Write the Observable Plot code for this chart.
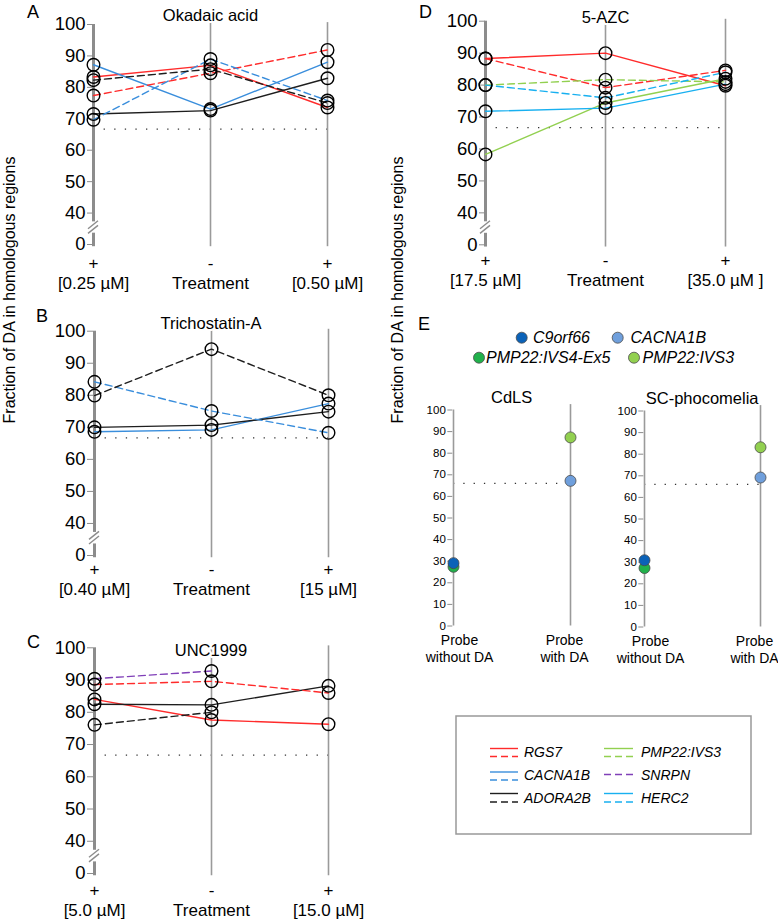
<!DOCTYPE html>
<html><head><meta charset="utf-8">
<script src="https://cdn.jsdelivr.net/npm/d3@7"></script>
<script src="https://cdn.jsdelivr.net/npm/@observablehq/plot@0.6"></script>
<style>
html,body{margin:0;padding:0;background:#fff;overflow:hidden;}
#fig{position:relative;width:778px;height:920px;font-family:"Liberation Sans",Arial,Helvetica,sans-serif;}
#fig > svg{position:absolute;}
</style></head><body><div id="fig"></div>
<script>
const FONT = '"Liberation Sans", Arial, Helvetica, sans-serif';

// ---------- shared categories / ticks ----------
const conditions = ["low", "untreated", "high"];
const conditionSigns = ["+", "-", "+"];
const yTicks = [30, 40, 50, 60, 70, 80, 90, 100];        // 30 = position of the "0" below the axis break
const yTickLabels = ["0", "40", "50", "60", "70", "80", "90", "100"];
const threshold = 66.7;
const yLabel = "Fraction of DA in homologous regions";

const geneNames = ["RGS7", "CACNA1B", "ADORA2B", "PMP22:IVS3", "SNRPN", "HERC2"];
const geneColors = ["#ff2b2b", "#3a8edc", "#1e1e1e", "#92d050", "#8040b8", "#18b0f0"];
const legendHasSolid = [true, true, true, true, false, true];

// ---------- A: Okadaic acid ----------
const okadaicTitle = "Okadaic acid";
const okadaicDoses = ["[0.25 µM]", "Treatment", "[0.50 µM]"];
const okadaicGenes = ["RGS7", "RGS7", "CACNA1B", "CACNA1B", "ADORA2B", "ADORA2B"];
const okadaicStyles = ["solid", "dashed", "solid", "dashed", "solid", "dashed"];
const okadaicValues = [
  [83.3, 87.0, 73.6],
  [77.4, 84.5, 91.9],
  [87.2, 73.1, 88.0],
  [69.7, 89.0, 75.8],
  [71.5, 72.6, 82.9],
  [82.3, 85.8, 75.0]
];

// ---------- B: Trichostatin-A ----------
const tsaTitle = "Trichostatin-A";
const tsaDoses = ["[0.40 µM]", "Treatment", "[15 µM]"];
const tsaGenes = ["CACNA1B", "CACNA1B", "ADORA2B", "ADORA2B"];
const tsaStyles = ["solid", "dashed", "solid", "dashed"];
const tsaValues = [
  [68.6, 69.2, 77.4],
  [84.2, 75.1, 68.3],
  [70.0, 70.7, 74.9],
  [79.9, 94.4, 80.0]
];

// ---------- C: UNC1999 ----------
const uncTitle = "UNC1999";
const uncDoses = ["[5.0 µM]", "Treatment", "[15.0 µM]"];
const uncGenes = ["RGS7", "RGS7", "ADORA2B", "ADORA2B", "SNRPN"];
const uncStyles = ["solid", "dashed", "solid", "dashed", "dashed"];
const uncValues = [
  [84.0, 77.6, 76.3],
  [88.6, 89.6, 86.0],
  [82.5, 82.3, 88.2],
  [76.1, 80.0, null],
  [90.4, 92.8, null]
];

// ---------- D: 5-AZC ----------
const azcTitle = "5-AZC";
const azcDoses = ["[17.5 µM]", "Treatment", "[35.0 µM ]"];
const azcGenes = ["RGS7", "RGS7", "PMP22:IVS3", "PMP22:IVS3", "HERC2", "HERC2"];
const azcStyles = ["solid", "dashed", "solid", "dashed", "solid", "dashed"];
const azcValues = [
  [88.3, 90.0, 79.8],
  [88.3, 79.2, 84.6],
  [58.3, 74.4, 82.0],
  [80.0, 81.7, 81.0],
  [71.8, 72.8, 80.3],
  [80.0, 76.0, 84.0]
];

// ---------- E: probes ----------
const probeConditions = ["without", "with"];
const probeLabels = ["Probe\nwithout DA", "Probe\nwith DA"];
const eGenes = ["PMP22:IVS4-Ex5", "C9orf66", "CACNA1B", "PMP22:IVS3"];
const eGeneColors = ["#21b14b", "#0b62b8", "#6f9fdc", "#92d050"];
const eLegendOrder = ["C9orf66", "CACNA1B", "PMP22:IVS4-Ex5", "PMP22:IVS3"];
const eTicks = [0, 10, 20, 30, 40, 50, 60, 70, 80, 90, 100];
const eThreshold = 66;
const cdlsTitle = "CdLS";
const cdlsValues = [[27.4, null], [29.1, null], [null, 67.2], [null, 87.3]];
const scTitle = "SC-phocomelia";
const scValues = [[27.3, null], [30.9, null], [null, 69.2], [null, 83.2]];

const fig = document.getElementById("fig");

function toRows(genes, styles, values, cats) {
  return genes.flatMap((g, i) => values[i].map((v, j) => ({series: i, gene: g, style: styles ? styles[i] : null, cond: cats[j], value: v})))
    .filter(d => d.value != null);
}

function breakMark() {
  return (index, scales) => {
    const x = scales.x(conditions[0]);
    const y = scales.y(35.4);
    const g = d3.create("svg:g").attr("stroke", "#8c8c8c").attr("stroke-width", 1.4);
    for (const o of [-2.3, 2.3]) {
      g.append("line").attr("x1", x - 5).attr("y1", y + o + 4).attr("x2", x + 5).attr("y2", y + o - 4);
    }
    return g.node();
  };
}

function treatmentPanel(p) {
  const data = toRows(p.genes, p.styles, p.values, conditions);
  const xLabel = new Map(conditions.map((c, i) => [c, conditionSigns[i] + "\n" + p.doses[i]]));
  const plot = Plot.plot({
    width: p.width, height: p.height,
    marginLeft: p.mLeft, marginRight: p.mRight, marginTop: p.mTop, marginBottom: p.mBottom,
    x: {type: "point", domain: conditions, padding: 0},
    y: {domain: [30, 100]},
    color: {domain: geneNames, range: geneColors},
    style: {background: "transparent", overflow: "visible", fontFamily: FONT},
    marks: [
      Plot.ruleY([{y: threshold, x1: conditions[0], x2: conditions[2]}], {y: "y", x1: "x1", x2: "x2", stroke: "#333", strokeWidth: 1.3, strokeDasharray: "1.3,9.3"}),
      Plot.ruleX(conditions.slice(1), {x: d => d, y1: 29.3, y2: 100.6, stroke: "#9a9a9a", strokeWidth: 1.6}),
      Plot.ruleX([conditions[0]], {x: d => d, y1: 37.2, y2: 100, stroke: "#8c8c8c", strokeWidth: 3}),
      Plot.ruleX([conditions[0]], {x: d => d, y1: 29.3, y2: 33.6, stroke: "#8c8c8c", strokeWidth: 3}),
      breakMark(),
      Plot.axisY({ticks: yTicks, tickFormat: d => yTickLabels[yTicks.indexOf(d)], tickSize: 6, tickPadding: 2, fontSize: 18.5, stroke: "#8c8c8c", fill: "#000"}),
      Plot.axisX({tickSize: 0, tickPadding: p.xPad, tickFormat: d => xLabel.get(d), fontSize: 17, lineHeight: 1.2, fill: "#000"}),
      Plot.line(data.filter(d => d.style === "solid"), {x: "cond", y: "value", z: "series", stroke: "gene", strokeWidth: 1.4}),
      Plot.line(data.filter(d => d.style === "dashed"), {x: "cond", y: "value", z: "series", stroke: "gene", strokeWidth: 1.4, strokeDasharray: "7,4"}),
      Plot.dot(data, {x: "cond", y: "value", r: 6.3, stroke: "#000", strokeWidth: 1.4, fill: "none"}),
      Plot.text([p.title], {text: d => d, frameAnchor: "top", dy: p.titleDy, fontSize: 16.5, fill: "#000", stroke: "white", strokeWidth: 4, paintOrder: "stroke"})
    ]
  });
  plot.style.left = p.left + "px";
  plot.style.top = p.top + "px";
  fig.appendChild(plot);
}

treatmentPanel({title: okadaicTitle, doses: okadaicDoses, genes: okadaicGenes, styles: okadaicStyles, values: okadaicValues,
  left: 0, top: 0, width: 390, height: 300, mLeft: 93, mRight: 63, mTop: 24, mBottom: 56, xPad: 10, titleDy: -15});
treatmentPanel({title: tsaTitle, doses: tsaDoses, genes: tsaGenes, styles: tsaStyles, values: tsaValues,
  left: 0, top: 290, width: 390, height: 310, mLeft: 93, mRight: 62, mTop: 40.7, mBottom: 45, xPad: 5, titleDy: -14});
treatmentPanel({title: uncTitle, doses: uncDoses, genes: uncGenes, styles: uncStyles, values: uncValues,
  left: 0, top: 620, width: 390, height: 300, mLeft: 93, mRight: 62, mTop: 27.3, mBottom: 47, xPad: 8, titleDy: -4});
treatmentPanel({title: azcTitle, doses: azcDoses, genes: azcGenes, styles: azcStyles, values: azcValues,
  left: 392, top: 0, width: 386, height: 300, mLeft: 93, mRight: 53, mTop: 20.7, mBottom: 55.7, xPad: 6.6, titleDy: -10});

function probePanel(p) {
  const data = toRows(eGenes, null, p.values, probeConditions);
  const plot = Plot.plot({
    width: p.width, height: p.height,
    marginLeft: p.mLeft, marginRight: p.mRight, marginTop: p.mTop, marginBottom: p.mBottom,
    x: {type: "point", domain: probeConditions, padding: 0},
    y: {domain: [0, 100]},
    color: {domain: eGenes, range: eGeneColors},
    style: {background: "transparent", overflow: "visible", fontFamily: FONT},
    marks: [
      Plot.ruleY([{y: eThreshold, x1: probeConditions[0], x2: probeConditions[1]}], {y: "y", x1: "x1", x2: "x2", stroke: "#333", strokeWidth: 1.3, strokeDasharray: "1.3,9"}),
      Plot.ruleX([probeConditions[0]], {x: d => d, y1: 0, y2: 100, stroke: "#9a9a9a", strokeWidth: 1.6}),
      Plot.ruleX([probeConditions[1]], {x: d => d, y1: 0, y2: 102.5, stroke: "#9a9a9a", strokeWidth: 1.6}),
      Plot.axisY({ticks: eTicks, tickSize: 5, tickPadding: 2, fontSize: 11.5, stroke: "#8c8c8c", fill: "#000"}),
      Plot.axisX({ticks: [], tickSize: 0}),
      Plot.text([probeConditions[0]], {x: d => d, text: d => probeLabels[0], frameAnchor: "bottom", lineAnchor: "top", dy: 7.5, dx: 6, fontSize: 14, lineHeight: 1.2, fill: "#000"}),
      Plot.text([probeConditions[1]], {x: d => d, text: d => probeLabels[1], frameAnchor: "bottom", lineAnchor: "top", dy: 7.5, dx: -6, fontSize: 14, lineHeight: 1.2, fill: "#000"}),
      Plot.dot(data, {x: "cond", y: "value", r: 5.5, fill: "gene", stroke: "#4a4a4a", strokeWidth: 0.8}),
      Plot.text([p.title], {text: d => d, frameAnchor: "top", dy: -19, fontSize: 16.5, fill: "#000"})
    ]
  });
  plot.style.left = p.left + "px";
  plot.style.top = p.top + "px";
  fig.appendChild(plot);
}

probePanel({title: cdlsTitle, values: cdlsValues, left: 400, top: 370, width: 190, height: 300, mLeft: 52.3, mRight: 20, mTop: 39.5, mBottom: 44.5});
probePanel({title: scTitle, values: scValues, left: 595, top: 370, width: 183, height: 300, mLeft: 48.3, mRight: 18, mTop: 40.5, mBottom: 43.5});

// ---------- overlay: panel letters, y labels, legends ----------
const ov = d3.create("svg").attr("width", 778).attr("height", 920)
  .style("position", "absolute").style("left", "0px").style("top", "0px")
  .style("pointer-events", "none").style("font-family", FONT);
const letters = [["A", 27, 18], ["B", 36, 322], ["C", 27, 648], ["D", 419, 18], ["E", 418, 330]];
for (const [t, x, y] of letters) ov.append("text").attr("x", x).attr("y", y).attr("font-size", 18).text(t);
for (const cx of [9, 397]) {
  ov.append("text").attr("transform", `translate(${cx},290) rotate(-90)`).attr("text-anchor", "middle")
    .attr("dominant-baseline", "central").attr("font-size", 16).text(yLabel);
}
// E legend (top)
const eLegendPos = [[521.7, 337.7, 533], [617.7, 337.7, 630.5], [479, 357.7, 486], [634, 357.7, 642.5]];
eLegendOrder.forEach((g, i) => {
  const [cx, cy, tx] = eLegendPos[i];
  ov.append("circle").attr("cx", cx).attr("cy", cy).attr("r", 5.5).attr("fill", eGeneColors[eGenes.indexOf(g)]).attr("stroke", "#4a4a4a").attr("stroke-width", 0.8);
  ov.append("text").attr("x", tx).attr("y", cy).attr("dominant-baseline", "central").attr("font-size", 16).attr("font-style", "italic").text(g);
});
// bottom legend box
ov.append("rect").attr("x", 456).attr("y", 716).attr("width", 295).attr("height", 118).attr("fill", "none").attr("stroke", "#999").attr("stroke-width", 1.5);
const boxCols = [[490, 518, 524], [604, 633, 641]];
const boxRows = [[748.5, 756.5, 752], [772, 780, 774.5], [793.5, 802, 797.5]];
geneNames.forEach((g, i) => {
  const col = boxCols[Math.floor(i / 3)], row = boxRows[i % 3];
  const c = geneColors[i];
  if (legendHasSolid[i]) {
    ov.append("line").attr("x1", col[0]).attr("x2", col[1]).attr("y1", row[0]).attr("y2", row[0]).attr("stroke", c).attr("stroke-width", 1.4);
    ov.append("line").attr("x1", col[0]).attr("x2", col[1]).attr("y1", row[1]).attr("y2", row[1]).attr("stroke", c).attr("stroke-width", 1.4).attr("stroke-dasharray", "7,4");
  } else {
    ov.append("line").attr("x1", col[0]).attr("x2", col[1]).attr("y1", row[2]).attr("y2", row[2]).attr("stroke", c).attr("stroke-width", 1.4).attr("stroke-dasharray", "7,4");
  }
  ov.append("text").attr("x", col[2]).attr("y", row[2]).attr("dominant-baseline", "central").attr("font-size", 14).attr("font-style", "italic").text(g);
});
fig.appendChild(ov.node());
</script></body></html>
